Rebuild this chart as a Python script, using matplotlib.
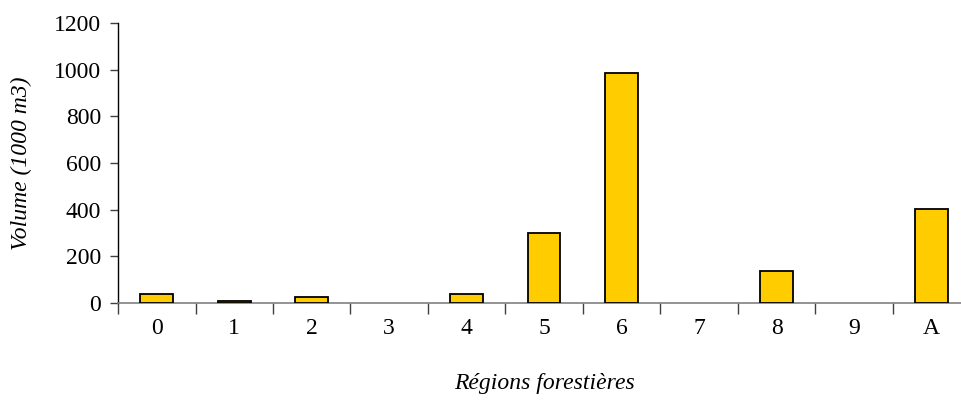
import numpy as np
import matplotlib
matplotlib.use("Agg")
import matplotlib.pyplot as plt

regions = ['0', '1', '2', '3', '4', '5', '6', '7', '8', '9', 'A']
volume = [37, 10, 27, 0, 37, 300, 985, 0, 138, 0, 402]
yticks = [0, 200, 400, 600, 800, 1000, 1200]

plt.rcParams['font.family'] = ['Liberation Serif', 'DejaVu Serif']

fig = plt.figure(figsize=(9.61, 4.01), dpi=100)
ax = fig.add_axes([0.1228, 0.2444, 0.887, 0.698])

x = np.arange(len(regions))
# empty regions get no outline at all
edges = ['black' if v > 0 else 'none' for v in volume]
ax.bar(x, volume, width=0.42, color='#FFCC00', edgecolor=edges, linewidth=1.3, zorder=3)

ax.set_xlim(-0.5, len(regions) - 0.5)
ax.set_ylim(0, 1200)
ax.set_yticks(yticks)
ax.set_yticklabels([str(v) for v in yticks], fontsize=17)

# boundaries between categories get the tick marks, labels sit in the middle
ax.set_xticks(np.arange(len(regions) + 1) - 0.5)
ax.set_xticklabels([])
ax.set_xticks(x, minor=True)
ax.set_xticklabels(regions, minor=True, fontsize=17)
ax.tick_params(axis='x', which='major', direction='out', length=8, width=1, color='#404040')
ax.tick_params(axis='x', which='minor', length=0, pad=11)
ax.tick_params(axis='y', direction='out', length=6, width=1, color='#404040', pad=6)

ax.spines['top'].set_visible(False)
ax.spines['right'].set_visible(False)
ax.spines['bottom'].set_color('#808080')
ax.spines['bottom'].set_linewidth(1.2)
ax.spines['left'].set_color('black')
ax.spines['left'].set_linewidth(1)

ax.set_xlabel('Régions forestières', fontsize=17, style='italic', labelpad=24)
ax.set_ylabel('Volume (1000 m3)', fontsize=17, style='italic', labelpad=16)

fig.savefig('out.png', dpi=100)
